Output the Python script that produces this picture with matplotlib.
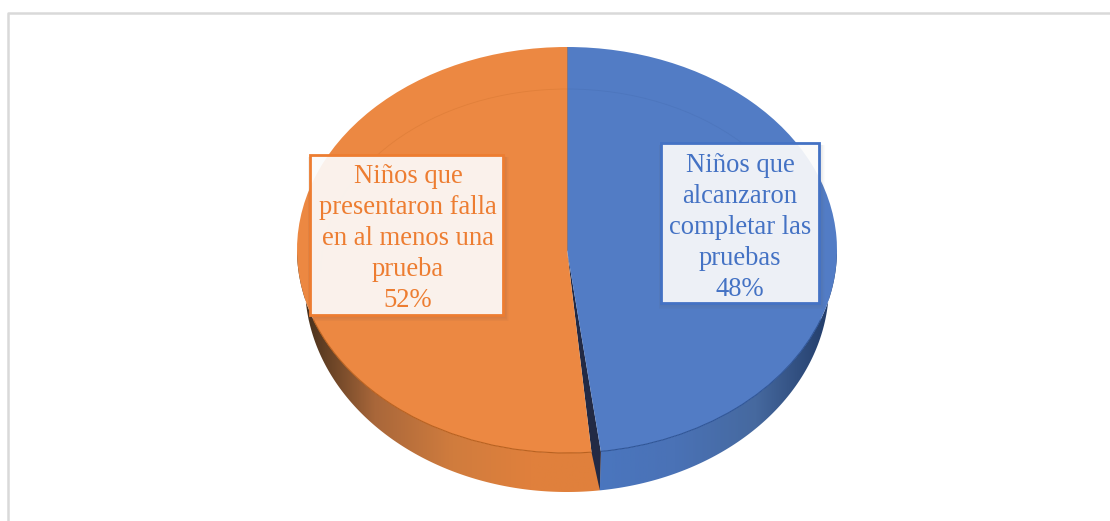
import numpy as np
import matplotlib.pyplot as plt
from matplotlib.colors import LinearSegmentedColormap
from matplotlib.patches import Arc, PathPatch, Polygon, Rectangle
from matplotlib.path import Path

plt.rcParams['font.family'] = ['Liberation Serif', 'DejaVu Serif']

# values, clockwise from the top
labels = ['Niños que\nalcanzaron\ncompletar las\npruebas\n48%',
          'Niños que\npresentaron falla\nen al menos una\nprueba\n52%']
values = [48, 52]

W, H = 1110, 521
cx, cy, rx, ry = 567, 250, 270, 203
gap = 2.0
# lower rim of the wall is a slightly narrower ellipse, lower down (perspective)
low_sx, low_sy, low_dy = 262 / 270, 207 / 203, 35 / 203

blue = '#527cc5'
orange = '#ec8842'
blue_side = LinearSegmentedColormap.from_list('b', ['#4a76bf', '#4a72b6', '#46699f', '#1f3864'], 256)
orange_side = LinearSegmentedColormap.from_list('o', ['#3c2a18', '#a9673a', '#d07c3e', '#e0803c', '#e0803c'], 256)


def px(x, y):
    return x / W, 1 - y / H


def side_path(t1, t2):
    t = np.radians(np.linspace(t1, t2, 200))
    top = np.column_stack([np.cos(t), np.sin(t)])
    bottom = np.column_stack([np.cos(t) * low_sx, np.sin(t) * low_sy - low_dy])[::-1]
    return Path(np.vstack([top, bottom, top[:1]]), closed=True)


def side(t1, t2, cmap, x0, x1):
    patch = PathPatch(side_path(t1, t2), fc='none', ec='none')
    ax.add_patch(patch)
    grad = np.linspace(0, 1, 256).reshape(1, -1)
    im = ax.imshow(grad, cmap=cmap, extent=[x0, x1, -1.3, 0.1], aspect='auto', zorder=2)
    im.set_clip_path(patch)


def box(x0, y0, x1, y1, color):
    (a, b), (c, d) = px(x0, y1), px(x1, y0)
    for off in range(8, 0, -1):
        ax.add_patch(Rectangle((a - off * 0.3 / W, b - off * 0.8 / H), c - a + off * 1.0 / W, d - b + off * 0.5 / H,
                               transform=fig.transFigure, fc='#555555', ec='none', alpha=0.025, zorder=8))
    ax.add_patch(Rectangle((a, b), c - a, d - b, transform=fig.transFigure,
                           fc='white', ec='none', alpha=0.9, zorder=9))
    ax.add_patch(Rectangle((a, b), c - a, d - b, transform=fig.transFigure,
                           fc='none', ec=color, lw=2.0, zorder=10))


fig = plt.figure(figsize=(W / 100, H / 100), dpi=100)
ax = fig.add_axes([0, 0, 1, 1])

wedges, _ = ax.pie(values, startangle=90, counterclock=False, colors=[blue, orange],
                   wedgeprops={'linewidth': 0, 'zorder': 5})
blue_w, orange_w = wedges
cut = blue_w.theta1

ax.set_aspect('auto')
ax.set_xlim((0 - cx) / rx, (W - cx) / rx)
ax.set_ylim((cy - H) / ry, cy / ry)
ax.axis('off')

# frame of the picture
fig.add_artist(plt.Line2D([8 / W, 8 / W, 1], [0, 1 - 12.5 / H, 1 - 12.5 / H], color='#d9d9d9', lw=1.8))

# side wall
side(-180, cut, orange_side, -1, 0.15)
side(cut, 0, blue_side, 0.1, 1)

# cut face seen between the two slices
orange_w.set_theta2(orange_w.theta2 - gap)
a, b = np.radians(cut - gap), np.radians(cut)
ax.add_patch(Polygon([(0, 0), (np.cos(a), np.sin(a)),
                      (np.cos(b) * low_sx, np.sin(b) * low_sy - low_dy), (np.cos(b), np.sin(b))],
                     fc='#222a45', ec='none', zorder=4))

# rim and bevel lines
ax.add_patch(Arc((0, 0), 2, 2, theta1=200, theta2=360 + cut - gap, color='#b9611f', lw=0.8, zorder=6))
ax.add_patch(Arc((0, 0), 2, 2, theta1=cut, theta2=340, color='#2f5597', lw=0.8, zorder=6))
ax.add_patch(Arc((0, -21 / ry), 2 * 246 / rx, 2 * 182 / ry, theta1=90, theta2=180, color='#d97a35', lw=0.6, alpha=0.6, zorder=6))
ax.add_patch(Arc((0, -21 / ry), 2 * 246 / rx, 2 * 182 / ry, theta1=0, theta2=90, color='#4a72b8', lw=0.6, alpha=0.6, zorder=6))
ax.plot([0, 0], [0, 1], color='#b9713a', lw=0.6, zorder=6, alpha=0.6)

box(310, 155, 503, 315, '#ed7d31')
box(661, 143, 819, 303, '#4472c4')

tx, ty = px(740, 227.5)
fig.text(tx, ty, labels[0], color='#4472c4', fontsize=19.2, ha='center', va='center',
         linespacing=1.32, zorder=12)
tx, ty = px(408, 238.5)
fig.text(tx, ty, labels[1], color='#ed7d31', fontsize=19.2, ha='center', va='center',
         linespacing=1.32, zorder=12)

fig.savefig('out.png', dpi=100)
